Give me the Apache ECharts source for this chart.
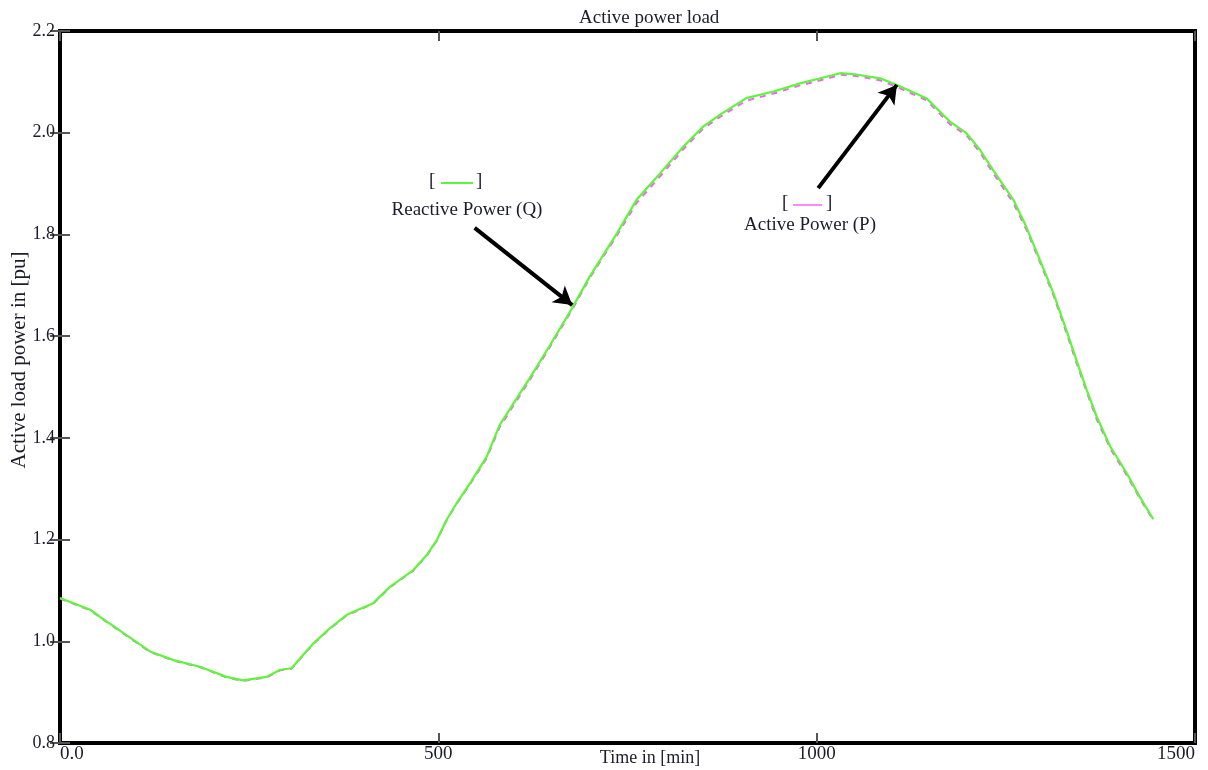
<!DOCTYPE html>
<html>
<head>
<meta charset="utf-8">
<script src="https://cdn.jsdelivr.net/npm/echarts@6/dist/echarts.min.js"></script>
<style>
html,body{margin:0;padding:0;background:#fff;}
#chart{width:1208px;height:770px;}
</style>
</head>
<body>
<div id="chart"></div>
<script>
// ---- data (time in minutes, power in pu) ----
var timeMin = [0, 40, 53, 84, 119, 150, 185, 220, 242, 273, 291, 306, 335, 357, 379, 414, 436, 467, 485, 498, 511, 524, 542, 564, 581, 621, 648, 678, 700, 714, 736, 762, 793, 824, 850, 872, 907, 943, 978, 1013, 1031, 1050, 1084, 1106, 1145, 1176, 1198, 1216, 1233, 1260, 1277, 1295, 1313, 1330, 1344, 1357, 1370, 1388, 1410, 1427, 1445];
var reactiveQ = [1.085, 1.062, 1.048, 1.016, 0.980, 0.963, 0.950, 0.930, 0.923, 0.930, 0.944, 0.947, 0.996, 1.026, 1.052, 1.075, 1.107, 1.140, 1.170, 1.199, 1.239, 1.271, 1.311, 1.363, 1.425, 1.518, 1.583, 1.658, 1.717, 1.750, 1.802, 1.868, 1.920, 1.973, 2.012, 2.035, 2.068, 2.081, 2.097, 2.110, 2.117, 2.115, 2.107, 2.094, 2.068, 2.022, 1.999, 1.966, 1.927, 1.868, 1.815, 1.750, 1.684, 1.612, 1.550, 1.494, 1.442, 1.383, 1.330, 1.284, 1.240];
var activeP = [1.084, 1.061, 1.047, 1.015, 0.979, 0.962, 0.949, 0.929, 0.922, 0.929, 0.943, 0.946, 0.995, 1.025, 1.051, 1.074, 1.106, 1.139, 1.169, 1.198, 1.238, 1.270, 1.309, 1.360, 1.421, 1.514, 1.580, 1.655, 1.714, 1.747, 1.798, 1.862, 1.914, 1.968, 2.008, 2.031, 2.063, 2.077, 2.093, 2.106, 2.114, 2.112, 2.103, 2.090, 2.064, 2.017, 1.995, 1.961, 1.921, 1.862, 1.810, 1.746, 1.680, 1.607, 1.545, 1.490, 1.437, 1.379, 1.326, 1.281, 1.238];
var xTicks = [0, 500, 1000, 1500];
var yTicks = [0.8, 1.0, 1.2, 1.4, 1.6, 1.8, 2.0, 2.2];
// annotation arrows: [startTime, startValue, endTime, endValue]
var arrowQ = [548, 1.813, 677, 1.661];
var arrowP = [1002, 1.891, 1106, 2.094];

var serif = '"Liberation Serif", "DejaVu Serif", serif';
var txt = '#1c1c2c';
var green = '#5ef53a';

function pairs(xs, ys) { return xs.map(function (x, i) { return [x, ys[i]]; }); }

var chart = echarts.init(document.getElementById('chart'), null, { renderer: 'canvas' });

var tickStyle = { show: true, inside: true, length: 10, lineStyle: { color: '#555', width: 2 } };

chart.setOption({
  backgroundColor: '#fff',
  animation: false,
  title: {
    text: 'Active power load',
    left: 574, top: 4,
    textStyle: { fontFamily: serif, fontSize: 19, fontWeight: 'normal', color: txt }
  },
  grid: {
    left: 60, right: 13, top: 31, bottom: 27,
    outerBoundsMode: 'none', containLabel: false,
    show: true, borderColor: '#000', borderWidth: 4, backgroundColor: 'transparent'
  },
  xAxis: [{
    type: 'value', min: 0, max: 1500, interval: 500,
    axisLine: { show: false },
    axisTick: tickStyle,
    splitLine: { show: false },
    axisLabel: {
      fontFamily: serif, fontSize: 19, color: txt, margin: 2,
      alignMinLabel: 'left', alignMaxLabel: 'right',
      formatter: function (v) { return v === 0 ? '0.0' : String(v); }
    }
  }, {
    type: 'value', min: 0, max: 1500, interval: 500, position: 'top',
    axisLine: { show: false }, axisTick: tickStyle, axisLabel: { show: false }, splitLine: { show: false }
  }],
  yAxis: [{
    type: 'value', min: 0.8, max: 2.2, interval: 0.2,
    axisLine: { show: false },
    axisTick: tickStyle,
    splitLine: { show: false },
    axisLabel: {
      fontFamily: serif, fontSize: 18, color: txt, margin: 5,
      formatter: function (v) { return v.toFixed(1); }
    }
  }, {
    type: 'value', min: 0.8, max: 2.2, interval: 0.2, position: 'right',
    axisLine: { show: false }, axisTick: tickStyle, axisLabel: { show: false }, splitLine: { show: false }
  }],
  series: [{
    name: 'Active Power (P)',
    type: 'line',
    data: pairs(timeMin, activeP),
    showSymbol: false,
    lineStyle: { color: '#ee66ee', width: 2, type: [6, 6] },
    z: 2
  }, {
    name: 'Reactive Power (Q)',
    type: 'line',
    data: pairs(timeMin, reactiveQ),
    showSymbol: false,
    lineStyle: { color: green, width: 2.2 },
    z: 3,
    markLine: {
      silent: true,
      symbol: ['none', 'arrow'],
      symbolSize: [16, 18],
      label: { show: false },
      lineStyle: { color: '#000', width: 4, type: 'solid' },
      data: [
        [{ coord: [arrowQ[0], arrowQ[1]] }, { coord: [arrowQ[2], arrowQ[3]] }],
        [{ coord: [arrowP[0], arrowP[1]] }, { coord: [arrowP[2], arrowP[3]] }]
      ]
    }
  }],
  graphic: [
    { type: 'text', x: 650, y: 758, style: { text: 'Time in [min]', font: '18px ' + serif, fill: txt, align: 'center', verticalAlign: 'middle' } },
    { type: 'text', x: 19, y: 360, rotation: Math.PI / 2, style: { text: 'Active load power in [pu]', font: '21px ' + serif, fill: txt, align: 'center', verticalAlign: 'middle' } },
    { type: 'text', left: 429, top: 172, style: { text: '[', font: '19px ' + serif, fill: txt } },
    { type: 'line', shape: { x1: 441, y1: 183, x2: 473, y2: 183 }, style: { stroke: green, lineWidth: 2 } },
    { type: 'text', left: 476, top: 172, style: { text: ']', font: '19px ' + serif, fill: txt } },
    { type: 'text', x: 467, y: 201, style: { text: 'Reactive Power (Q)', font: '19px ' + serif, fill: txt, align: 'center' } },
    { type: 'text', left: 782, top: 194, style: { text: '[', font: '19px ' + serif, fill: txt } },
    { type: 'text', left: 826, top: 194, style: { text: ']', font: '19px ' + serif, fill: txt } },
    { type: 'line', shape: { x1: 793, y1: 205, x2: 822, y2: 205 }, style: { stroke: '#ff88ff', lineWidth: 2 } },
    { type: 'text', x: 810, y: 216, style: { text: 'Active Power (P)', font: '19px ' + serif, fill: txt, align: 'center' } }
  ]
});
</script>
</body>
</html>
